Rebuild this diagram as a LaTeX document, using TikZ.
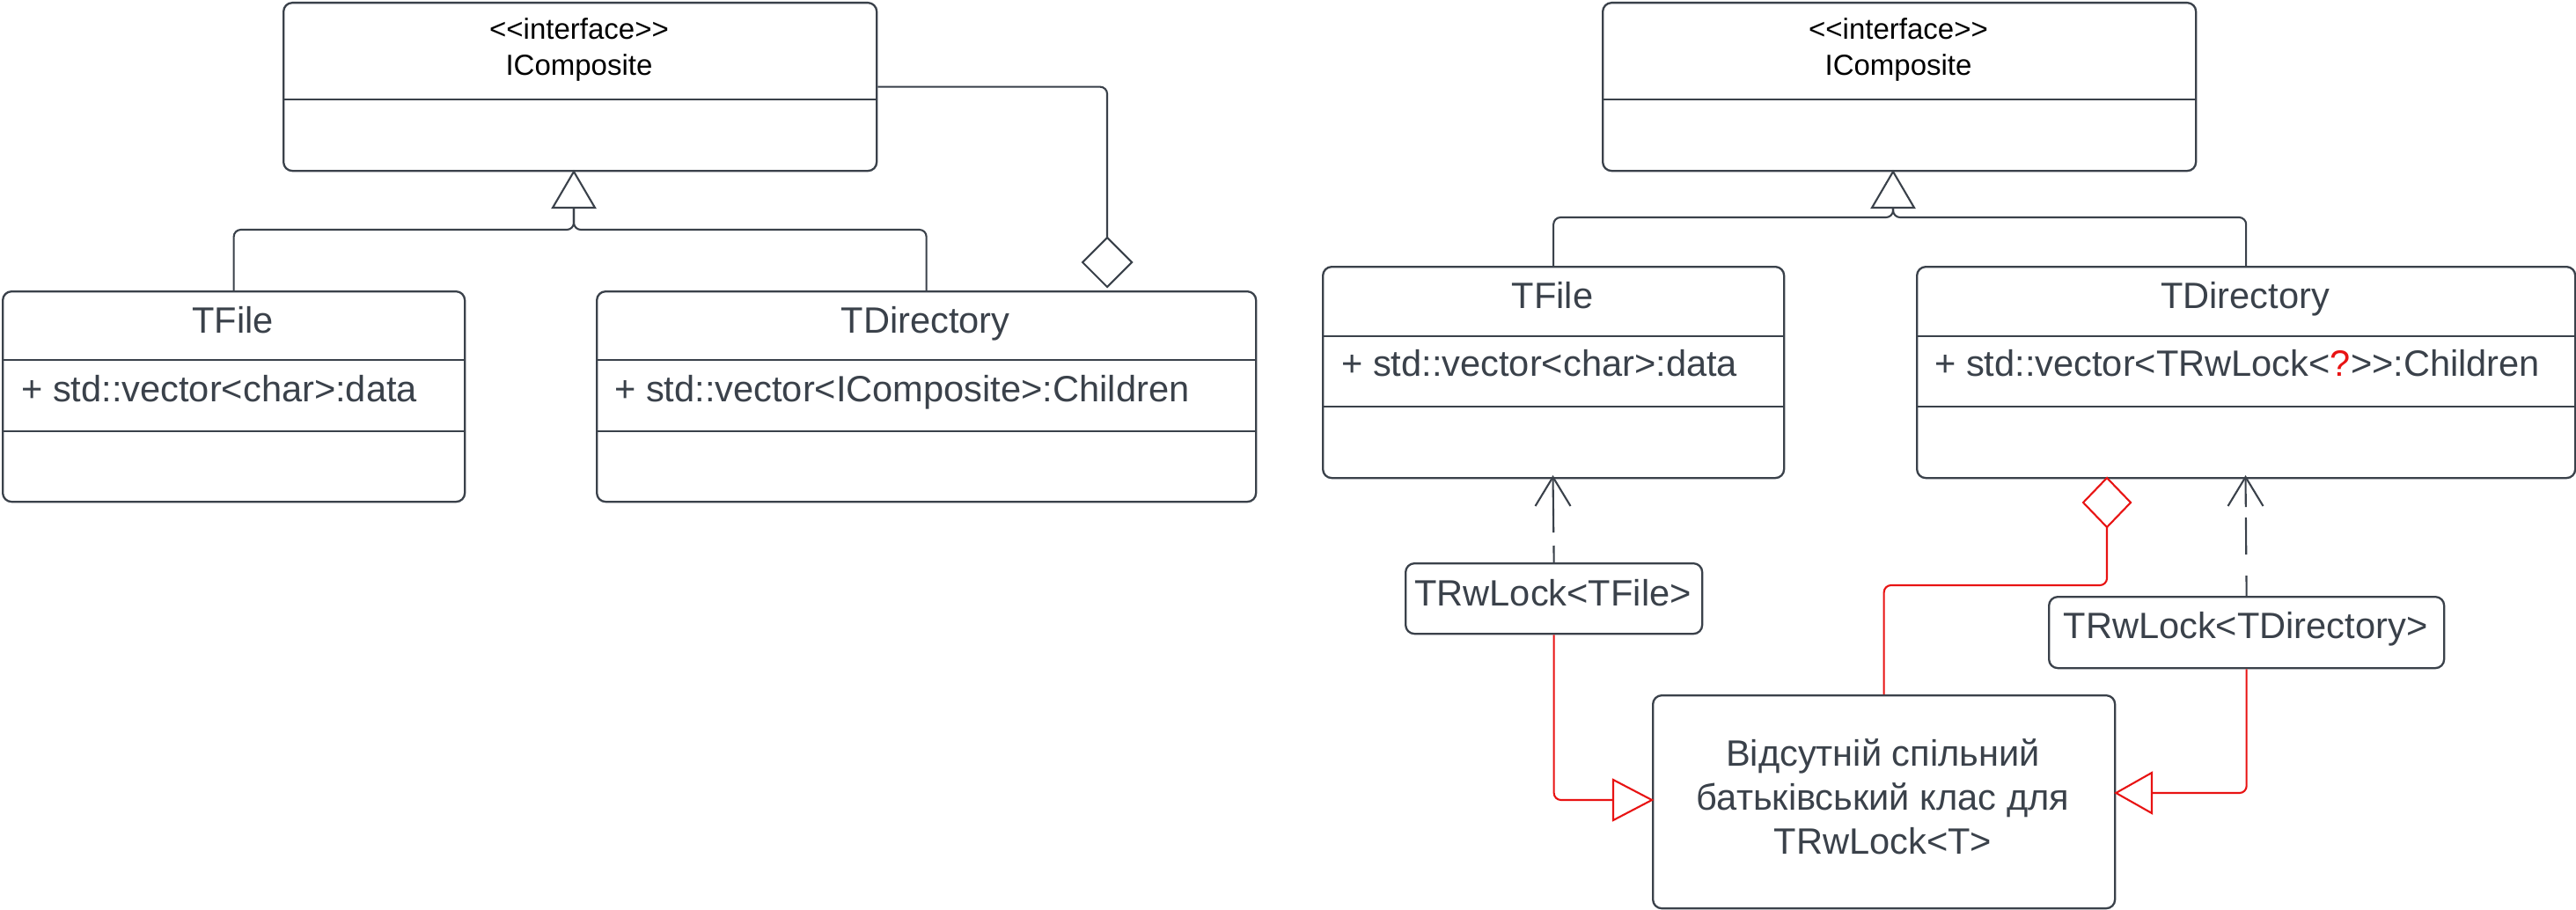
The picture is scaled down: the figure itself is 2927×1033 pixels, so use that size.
\documentclass[tikz,border=0pt]{standalone}
\usepackage{fontspec}
\setmainfont{Liberation Sans}[Ligatures=TeXOff]
\definecolor{ink}{RGB}{58,65,74}
\definecolor{redl}{RGB}{232,19,19}
\begin{document}
\begin{tikzpicture}[x=1pt,y=-1pt,
  cls/.style={draw=ink,line width=2.3pt,rounded corners=10pt,fill=white,inner sep=0pt,anchor=north west},
  sep/.style={draw=ink,line width=2.3pt},
  conn/.style={draw=ink,line width=2.1pt,rounded corners=8pt},
  rconn/.style={draw=redl,line width=2.1pt,rounded corners=8pt},
  head/.style={draw=ink,line width=2.1pt,fill=white,line join=miter},
  rhead/.style={draw=redl,line width=2.1pt,fill=white,line join=miter},
  lbl/.style={text=ink,inner sep=0pt,anchor=base,font=\fontsize{41.6}{50}\selectfont},
  attr/.style={lbl,anchor=base west},
  stereo/.style={text=black,inner sep=0pt,anchor=base,font=\fontsize{33}{40}\selectfont}]
\fill[white] (0,0) rectangle (2927,1033);
\useasboundingbox (0,0) rectangle (2927,1033);

% ---------------- left diagram ----------------
\node[cls,minimum width=674pt,minimum height=191pt] (lic) at (321,2) {};
\draw[sep] (321,113) -- (995,113);
\node[stereo] (licst) at (658,45) {<<interface>>};
\node[stereo] (licnm) at (658,85) {IComposite};

\node[cls,minimum width=525pt,minimum height=239pt] (lfile) at (2,330) {};
\draw[sep] (2,409) -- (527,409);
\draw[sep] (2,490) -- (527,490);
\node[lbl] (lfilenm) at (264.5,378) {TFile};
\node[attr] (lfileat) at (24,456) {+ std::vector<char>:data};

\node[cls,minimum width=749pt,minimum height=239pt] (ldir) at (677,330) {};
\draw[sep] (677,409) -- (1426,409);
\draw[sep] (677,490) -- (1426,490);
\node[lbl] (ldirnm) at (1051.5,378) {TDirectory};
\node[attr] (ldirat) at (698,456) {+ std::vector<IComposite>:Children};

\coordinate (ltip) at (652,195);
\coordinate (lbase) at (652,236);
\draw[conn] (lbase) -- (652,261) -| (lfile.north);
\draw[conn] (lbase) -- (652,261) -| (ldir.north);
\draw[head] (ltip) -- (676,236) -- (628,236) -- cycle;

\coordinate (ldia) at (1258,270);
\draw[conn] (lic.east) -| (ldia);
\draw[head] (ldia) -- (1286,298) -- (1258,326) -- (1230,298) -- cycle;

% ---------------- right diagram ----------------
\node[cls,minimum width=674pt,minimum height=191pt] (ric) at (1820,2) {};
\draw[sep] (1820,113) -- (2494,113);
\node[stereo] (ricst) at (2157,45) {<<interface>>};
\node[stereo] (ricnm) at (2157,85) {IComposite};

\node[cls,minimum width=524pt,minimum height=240pt] (rfile) at (1502,302) {};
\draw[sep] (1502,382) -- (2026,382);
\draw[sep] (1502,462) -- (2026,462);
\node[lbl] (rfilenm) at (1764,350) {TFile};
\node[attr] (rfileat) at (1524,427) {+ std::vector<char>:data};

\node[cls,minimum width=748pt,minimum height=240pt] (rdir) at (2177,302) {};
\draw[sep] (2177,382) -- (2925,382);
\draw[sep] (2177,462) -- (2925,462);
\node[lbl] (rdirnm) at (2551,350) {TDirectory};
\node[attr] (rdirat) at (2198,427) {+ std::vector<TRwLock<\textcolor{redl}{?}>>:Children};

\coordinate (rtip) at (2151,195);
\coordinate (rbase) at (2151,236);
\draw[conn] (rbase) -- (2151,247) -| (rfile.north);
\draw[conn] (rbase) -- (2151,247) -| (rdir.north);
\draw[head] (rtip) -- (2175,236) -- (2127,236) -- cycle;

\node[cls,minimum width=337pt,minimum height=80pt] (lockf) at (1596,639) {};
\node[lbl] (lockfnm) at (1764.5,688) {TRwLock<TFile>};
\node[cls,minimum width=449pt,minimum height=81pt] (lockd) at (2327,677) {};
\node[lbl] (lockdnm) at (2551.5,725) {TRwLock<TDirectory>};

\node[cls,minimum width=525pt,minimum height=242pt] (miss) at (1877,789) {};
\node[lbl] (miss1) at (2139.5,870) {Відсутній спільний};
\node[lbl] (miss2) at (2139.5,920) {батьківський клас для};
\node[lbl] (miss3) at (2139.5,970) {TRwLock<T>};

% dependencies (dashed, open arrow)
\coordinate (fdep) at (1764.5,542);
\draw[ink,line width=2.1pt,dash pattern=on 19pt off 15pt on 200pt] (lockf.north) -- (fdep);
\draw[ink,line width=2.1pt] (1744.5,575) -- (fdep) -- (1784.5,575);
\coordinate (ddep) at (2551.5,542);
\draw[ink,line width=2.1pt,dash pattern=on 23pt off 24pt on 42pt off 12pt on 200pt] (lockd.north) -- (ddep);
\draw[ink,line width=2.1pt] (2531.5,575) -- (ddep) -- (2571.5,575);

% red realisations
\coordinate (ftri) at (1833,909);
\draw[rconn] (lockf.south) |- (ftri);
\draw[rhead] (1833,886) -- (miss.west |- ftri) -- (1833,932) -- cycle;
\coordinate (dtri) at (2445,901);
\draw[rconn] (lockd.south) |- (dtri);
\draw[rhead] (2445,878) -- (miss.east |- dtri) -- (2445,924) -- cycle;

% red aggregation
\coordinate (rdia) at (2394,543);
\draw[rconn] (2394,599) -- (2394,665) -| (miss.north);
\draw[rhead] (rdia) -- (2421,571) -- (2394,599) -- (2367,571) -- cycle;
\end{tikzpicture}
\end{document}
